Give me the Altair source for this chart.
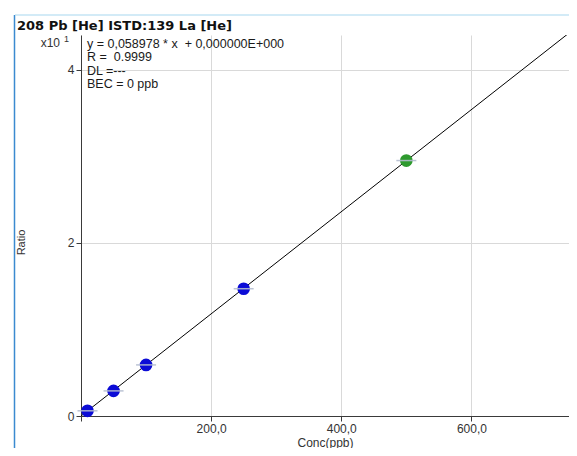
import altair as alt
import pandas as pd

# Data
conc = [10, 50, 100, 250, 500]
ratio = [0.6, 2.9, 5.9, 14.7, 29.5]
level = ["std", "std", "std", "std", "check"]

fit_x = [0, 750]
fit_y = [0.0, 44.23]

title_text = "208 Pb [He] ISTD:139 La [He]"
info_lines = ["y = 0,058978 * x \u00a0+ 0,000000E+000", "R = \u00a00.9999", "DL =---", "BEC = 0 ppb"]

pts = pd.DataFrame({"conc": conc, "ratio": ratio, "level": level})
fit = pd.DataFrame({"conc": fit_x, "ratio": fit_y})

W, H = 488, 381
FONT = "Liberation Sans"

xscale = alt.Scale(domain=[0, 750], nice=False, zero=False)
yscale = alt.Scale(domain=[0, 44], nice=False, zero=False)

xaxis = alt.Axis(values=[0, 200, 400, 600],
                 labelExpr="datum.value == 0 ? '' : replace(format(datum.value, '.1f'), '.', ',')",
                 grid=True, gridColor="#d9d9d9", domainColor="#3a3a3a", tickColor="#3a3a3a",
                 tickSize=5, labelFontSize=12, labelColor="#333333", labelFont=FONT,
                 labelPadding=2, title="Conc(ppb)", titleFont=FONT, titleFontSize=12,
                 titleFontWeight="normal", titleColor="#333333", titlePadding=3)
yaxis = alt.Axis(values=[0, 20, 40], labelExpr="format(datum.value / 10, 'd')",
                 grid=True, gridColor="#d9d9d9", domainColor="#3a3a3a", tickColor="#3a3a3a",
                 tickSize=5, labelFontSize=12, labelColor="#333333", labelFont=FONT,
                 labelPadding=2, title="Ratio", titleFont=FONT, titleFontSize=11,
                 titleFontWeight="normal", titleColor="#333333", titleX=-55, titleY=207)

line = alt.Chart(fit).mark_line(color="black", strokeWidth=1, clip=True).encode(
    x=alt.X("conc:Q", scale=xscale, axis=xaxis),
    y=alt.Y("ratio:Q", scale=yscale, axis=yaxis),
)

points = alt.Chart(pts).mark_point(filled=True, shape="circle", size=160, opacity=1).encode(
    x=alt.X("conc:Q", scale=xscale),
    y=alt.Y("ratio:Q", scale=yscale),
    color=alt.Color("level:N", scale=alt.Scale(domain=["std", "check"], range=["#0c0cd6", "#2e9a2e"]), legend=None),
)

ticks = alt.Chart(pts).mark_tick(orient="horizontal", size=20, thickness=1.5, color="#b4bccf", opacity=0.9).encode(
    x=alt.X("conc:Q", scale=xscale),
    y=alt.Y("ratio:Q", scale=yscale),
)

one = alt.Data(values=[{}])

def txt(s, x, y, size=12, weight="normal", align="left", color="#1a1a1a", font=FONT):
    return alt.Chart(one).mark_text(align=align, baseline="middle", fontSize=size, font=font,
                                    fontWeight=weight, color=color).encode(
        x=alt.value(x), y=alt.value(y), text=alt.value(s))

texts = [txt(title_text, -64, -9, size=13, weight="bold", color="#111111", font="DejaVu Sans")]
for i, s in enumerate(info_lines):
    texts.append(txt(s, 6, 9 + 13.3 * i, size=12.5))
texts.append(txt("x10", -21, 8, align="right", color="#333333"))
texts.append(txt("1", -17, 4, size=9, color="#333333"))

borders = [
    alt.Chart(one).mark_rule(color="#3b8ad0", strokeWidth=1.5).encode(
        x=alt.value(-66.5), y=alt.value(-20), y2=alt.value(H + 50)),
    alt.Chart(one).mark_rule(color="#a8d8ef", strokeWidth=1.2).encode(
        x=alt.value(-66), x2=alt.value(W + 10), y=alt.value(-20)),
]

chart = alt.layer(line, *borders, points, ticks, *texts).properties(
    width=W, height=H,
    autosize=alt.AutoSizeParams(type="none"),
    padding={"left": 73, "top": 27, "right": 0, "bottom": 32},
    background="white",
).configure_view(stroke=None)

chart.save("out.html", embed_options={"renderer": "svg", "actions": False})
